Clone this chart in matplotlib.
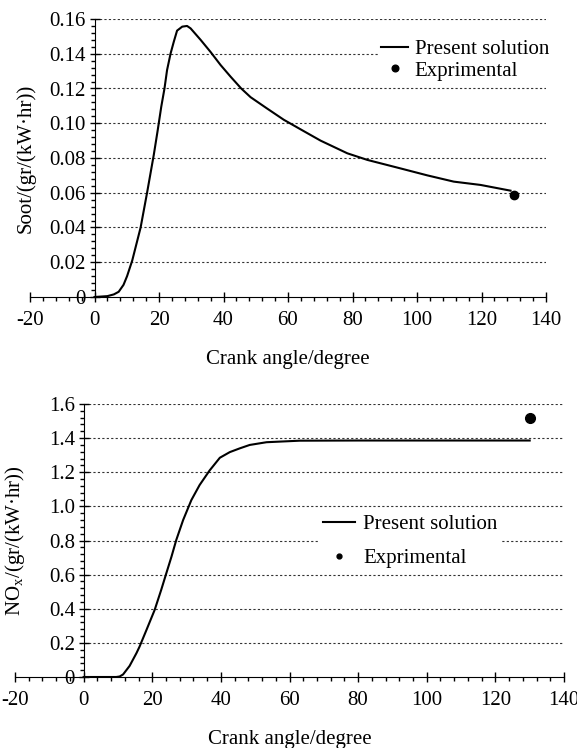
import numpy as np
import matplotlib
matplotlib.use("Agg")
import matplotlib.pyplot as plt
from matplotlib.ticker import MultipleLocator

plt.rcParams["font.family"] = ["Liberation Serif", "DejaVu Serif"]
plt.rcParams["mathtext.fontset"] = "custom"
plt.rcParams["mathtext.rm"] = "Liberation Serif"
plt.rcParams["axes.unicode_minus"] = False

# ---------------------------------------------------------------------------
# Data
# ---------------------------------------------------------------------------

soot_angle = [0, 4, 6, 7.5, 9, 10.1, 11.7, 14.3, 16.3, 18.4, 19.6, 20.7, 21.7,
              22.5, 23.6, 24.6, 25.6, 27.2, 28.7, 29.8, 32.9, 36, 39.1, 42.2,
              45.5, 48.4, 53.5, 58.7, 63.9, 70.1, 78.4, 84.6, 94.9, 103.2,
              111.4, 119.7, 129]
soot_value = [0, 0.0005, 0.0015, 0.003, 0.007, 0.012, 0.021, 0.040, 0.060,
              0.082, 0.096, 0.1095, 0.120, 0.1306, 0.1402, 0.147, 0.1533,
              0.1556, 0.156, 0.1546, 0.148, 0.141, 0.1335, 0.1268, 0.120,
              0.115, 0.1085, 0.102, 0.0965, 0.090, 0.0827, 0.0789, 0.074,
              0.070, 0.0664, 0.0645, 0.0612]
soot_exp_angle = [130]
soot_exp_value = [0.0587]

nox_angle = [0, 9.5, 10.5, 11.5, 13.4, 15.4, 16.3, 18.3, 20.7, 22.6, 24.1,
             25.6, 27, 29, 31.4, 33.8, 36.7, 39.7, 42.6, 45.5, 48.4, 53.3,
             63, 80, 100, 130]
nox_value = [0, 0, 0.003, 0.015, 0.065, 0.14, 0.178, 0.275, 0.393, 0.51,
             0.608, 0.705, 0.803, 0.92, 1.037, 1.125, 1.21, 1.285, 1.318,
             1.34, 1.36, 1.376, 1.385, 1.386, 1.386, 1.386]
nox_exp_angle = [130]
nox_exp_value = [1.52]

FS = 15


def style_axes(ax, ylim, ymajor, yminor, yfmt):
    ax.set_xlim(-20, 140)
    ax.set_ylim(*ylim)
    for s in ("top", "right"):
        ax.spines[s].set_visible(False)
    ax.spines["left"].set_position(("data", 0))
    ax.spines["bottom"].set_position(("data", 0))
    ax.xaxis.set_major_locator(MultipleLocator(20))
    ax.xaxis.set_minor_locator(MultipleLocator(4))
    ax.yaxis.set_major_locator(MultipleLocator(ymajor))
    ax.yaxis.set_minor_locator(MultipleLocator(yminor))
    ax.tick_params(which="major", direction="inout", length=6.5, width=1,
                   labelsize=FS)
    ax.tick_params(which="minor", direction="out", length=3, width=1)
    ax.tick_params(axis="x", which="major", pad=7)
    ax.tick_params(axis="y", which="major", pad=3)
    ax.yaxis.set_major_formatter(yfmt)
    # dotted grid only over the positive x range, as in the reference
    gy = np.arange(ymajor, ylim[1] + ymajor / 2, ymajor)
    ax.hlines(gy, 0, 140, colors="#333333", linestyles=(0, (2, 2)),
              linewidth=0.8, zorder=0.5)
    ax.set_xlabel("Crank angle/degree", fontsize=FS, labelpad=14)


fig = plt.figure(figsize=(5.77, 7.48), dpi=100)

# ── Soot ──────────────────────────────────────────────────────────────────
ax1 = fig.add_axes([30 / 577, 1 - 297 / 748, 516 / 577, 278 / 748])
style_axes(ax1, (0, 0.16), 0.02, 0.004,
           lambda v, p: "0" if abs(v) < 1e-9 else f"{v:.2f}")
ax1.plot(soot_angle, soot_value, color="black", lw=1.5, label="Present solution")
ax1.plot(soot_exp_angle, soot_exp_value, "o", color="black", ms=6,
         label="Exprimental")
ax1.set_ylabel("Soot/(gr/(kW\u00b7hr))", fontsize=FS)
ax1.yaxis.set_label_coords(0.011, 0.5)
leg1 = ax1.legend(loc="upper right", bbox_to_anchor=(1.01, 0.934), frameon=True,
                  fontsize=FS, handlelength=1.3, handletextpad=0.3,
                  borderpad=0.1, labelspacing=0.1, markerscale=0.8,
                  borderaxespad=0)
leg1.get_frame().set_edgecolor("none")
leg1.get_frame().set_facecolor("white")
leg1.get_frame().set_alpha(1)

# ── NOx ───────────────────────────────────────────────────────────────────
ax2 = fig.add_axes([15 / 577, 1 - 677 / 748, 549 / 577, 273 / 748])
style_axes(ax2, (0, 1.6), 0.2, 0.04,
           lambda v, p: "0" if abs(v) < 1e-9 else f"{v:.1f}")
ax2.plot(nox_angle, nox_value, color="black", lw=1.5, label="Present solution")
ax2.plot(nox_exp_angle, nox_exp_value, "o", color="black", ms=7,
         label="Exprimental")
ax2.set_ylabel("NO$_\\mathrm{x}$/(gr/(kW\u00b7hr))", fontsize=FS)
ax2.yaxis.set_label_coords(0.021, 0.5)
leg2 = ax2.legend(loc="center", bbox_to_anchor=(0.72, 0.496), frameon=True,
                  fontsize=FS, handlelength=1.5, handletextpad=0.4,
                  borderpad=0.2, labelspacing=0.7, markerscale=0.5)
leg2.get_frame().set_edgecolor("none")
leg2.get_frame().set_facecolor("white")
leg2.get_frame().set_alpha(1)

fig.savefig("out.png", dpi=100)
